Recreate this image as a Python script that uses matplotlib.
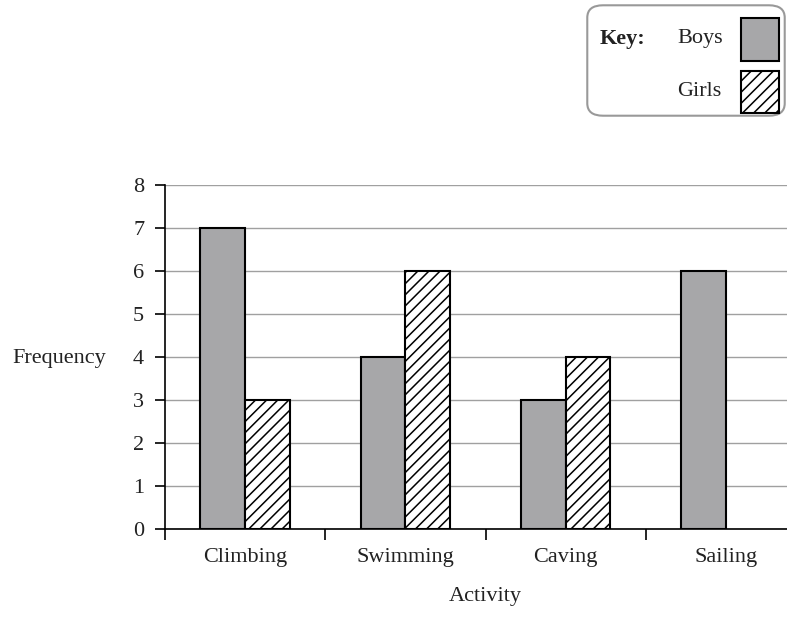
import matplotlib.pyplot as plt
from matplotlib.patches import FancyBboxPatch, Rectangle
import numpy as np

activities = ['Climbing', 'Swimming', 'Caving', 'Sailing']
boys = [7, 4, 3, 6]
girls = [3, 6, 4, 0]
y_ticks = [0, 1, 2, 3, 4, 5, 6, 7, 8]

FontSize = 16
Fontfamily = 'Liberation Serif'
barWidth = 0.28
boyColor = '#a7a7a9'
textColor = '#222222'

plt.rcParams['hatch.linewidth'] = 1.1

fig = plt.figure(figsize=(7.87, 6.18), dpi=100)
ax = fig.add_axes([165 / 787, 89 / 618, 641 / 787, 344 / 618])

r = np.arange(len(activities))
b1 = ax.bar(r - barWidth / 2, boys, width=barWidth, color=boyColor, edgecolor='black', linewidth=1.5, zorder=3)
b2 = ax.bar(r + barWidth / 2, girls, width=barWidth, color='white', edgecolor='black', hatch='///', linewidth=1.5, zorder=3)
for rect, v in zip(list(b1) + list(b2), boys + girls):
    if v == 0:
        rect.set_visible(False)

ax.set_xlim(-0.5, 3.5)
ax.set_ylim(0, 8)
ax.set_yticks(y_ticks)
ax.set_yticklabels([str(t) for t in y_ticks], fontsize=FontSize, fontname=Fontfamily, color=textColor)
ax.yaxis.grid(True, color='#a0a0a0', linewidth=1.0, zorder=0)
ax.set_axisbelow(True)

ax.set_xticks([-0.5, 0.5, 1.5, 2.5])
ax.set_xticklabels([])
ax.set_xticks(r, minor=True)
ax.set_xticklabels(activities, minor=True, fontsize=FontSize, fontname=Fontfamily, color=textColor)
ax.tick_params(axis='x', which='minor', length=0, pad=14)
ax.tick_params(axis='x', which='major', length=8, width=1.2, direction='out')
ax.tick_params(axis='y', length=7, width=1.2, direction='out', pad=8)

for s in ['top', 'right']:
    ax.spines[s].set_visible(False)
ax.spines['left'].set_linewidth(1.2)
ax.spines['bottom'].set_linewidth(1.2)

ax.set_xlabel('Activity', fontsize=FontSize, fontname=Fontfamily, color=textColor, labelpad=14)
fig.text(12 / 787, (618 - 358) / 618, 'Frequency', fontsize=FontSize, fontname=Fontfamily,
         color=textColor, ha='left', va='center')

# key box
box = FancyBboxPatch((592 / 787, 506 / 618), 188 / 787, 103 / 618,
                     boxstyle='round,pad=0.006,rounding_size=0.02', transform=fig.transFigure,
                     facecolor='white', edgecolor='#999999', linewidth=1.5)
fig.patches.append(box)
fig.text(600 / 787, (618 - 39) / 618, 'Key:', fontsize=FontSize, fontname=Fontfamily,
         fontweight='bold', color=textColor, ha='left', va='center')
fig.text(677 / 787, (618 - 39) / 618, 'Boys', fontsize=FontSize, fontname=Fontfamily,
         color=textColor, ha='left', va='center')
fig.text(677 / 787, (618 - 91) / 618, 'Girls', fontsize=FontSize, fontname=Fontfamily,
         color=textColor, ha='left', va='center')
fig.patches.append(Rectangle((741 / 787, (618 - 61) / 618), 38 / 787, 43 / 618, transform=fig.transFigure,
                             facecolor=boyColor, edgecolor='black', linewidth=1.5))
fig.patches.append(Rectangle((741 / 787, (618 - 113) / 618), 38 / 787, 42 / 618, transform=fig.transFigure,
                             facecolor='white', edgecolor='black', hatch='///', linewidth=1.5))

plt.savefig('out.png', dpi=100)
